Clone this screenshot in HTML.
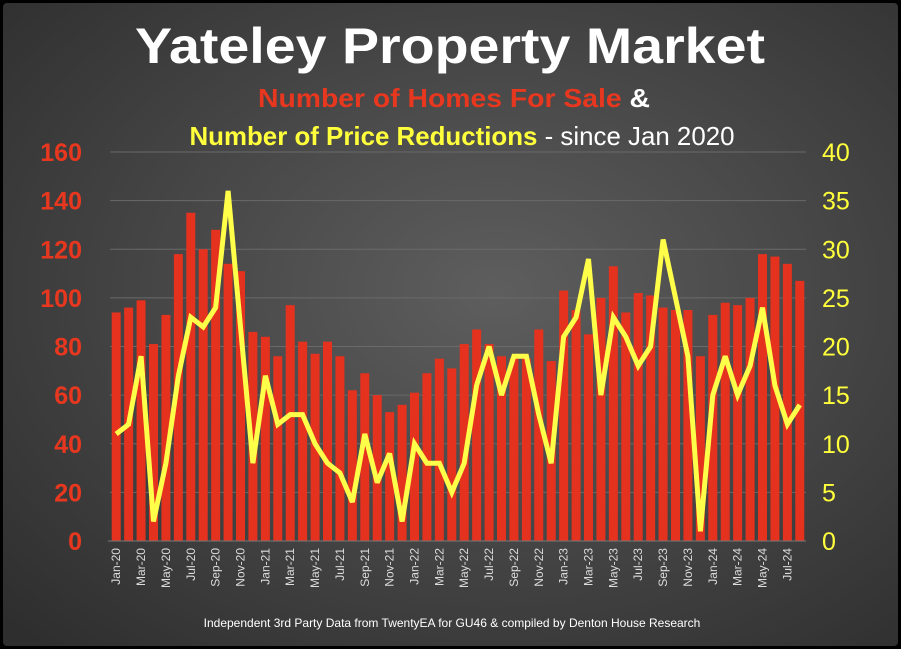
<!DOCTYPE html>
<html><head><meta charset="utf-8"><style>
html,body{margin:0;padding:0;background:#000;}
svg{display:block;font-family:"Liberation Sans",sans-serif;}
</style></head><body>
<svg id="chart" width="901" height="649" viewBox="0 0 901 649">
<defs>
<radialGradient id="bg" cx="0.55" cy="0.45" r="0.75">
<stop offset="0" stop-color="#5e5e5e"/><stop offset="1" stop-color="#2e2e2e"/>
</radialGradient>
</defs>
<rect x="3" y="3" width="895" height="643" rx="4" fill="url(#bg)"/>
<text x="450" y="63" text-anchor="middle" font-size="50" font-weight="bold" fill="#fff" textLength="630" lengthAdjust="spacingAndGlyphs">Yateley Property Market</text>
<text x="454" y="107" text-anchor="middle" font-size="26" font-weight="bold" textLength="392" lengthAdjust="spacingAndGlyphs"><tspan fill="#e8371f">Number of Homes For Sale</tspan><tspan fill="#fff"> &amp;</tspan></text>
<text x="462" y="145" text-anchor="middle" font-size="26" font-weight="bold" textLength="545" lengthAdjust="spacingAndGlyphs"><tspan fill="#ffff3c">Number of Price Reductions</tspan><tspan fill="#fff" font-weight="normal"> - since Jan 2020</tspan></text>
<g id="grid"></g><g id="bars"></g><g id="line"></g><g id="axes"></g>
<text x="452" y="627" text-anchor="middle" font-size="12" fill="#fff">Independent 3rd Party Data from TwentyEA for GU46 &amp; compiled by Denton House Research</text>
</svg>
<script>
const months = ["Jan","Feb","Mar","Apr","May","Jun","Jul","Aug","Sep","Oct","Nov","Dec"];
const homesForSale = [94,96,99,81,93,118,135,120,128,114,111,86,84,76,97,82,77,82,76,62,69,60,53,56,61,69,75,71,81,87,81,76,75,75,87,74,103,95,85,100,113,94,102,101,96,95,95,76,93,98,97,100,118,117,114,107];
const priceReductions = [11,12,19,2,8,17,23,22,24,36,22,8,17,12,13,13,10,8,7,4,11,6,9,2,10,8,8,5,8,16,20,15,19,19,13,8,21,23,29,15,23,21,18,20,31,25,19,1,15,19,15,18,24,16,12,14];
const leftTicks = [0,20,40,60,80,100,120,140,160];
const rightTicks = [0,5,10,15,20,25,30,35,40];
const categories = homesForSale.map((_, i) => months[i % 12] + "-" + String(20 + Math.floor(i / 12)));

const NS = "http://www.w3.org/2000/svg";
const X0 = 110, X1 = 806, Y0 = 541, Y1 = 152;
const n = categories.length, slot = (X1 - X0) / n;
const xC = i => X0 + slot * (i + 0.5);
const yL = v => Y0 - (v / 160) * (Y0 - Y1);
const yR = v => Y0 - (v / 40) * (Y0 - Y1);
function mk(tag, attrs, parent) {
  const e = document.createElementNS(NS, tag);
  for (const k in attrs) e.setAttribute(k, attrs[k]);
  parent.appendChild(e);
  return e;
}
const grid = document.getElementById("grid"), bars = document.getElementById("bars"),
      line = document.getElementById("line"), axes = document.getElementById("axes");
leftTicks.forEach((t, i) => {
  const y = yL(t);
  if (t > 0) {
    const g = mk("line", {x1: X0, x2: X1, y1: y, y2: y, stroke: "#6a6a6a", "stroke-width": 1}, grid);
    
    
  }
  const lt = mk("text", {x: 82, y: y + 9, "text-anchor": "end", "font-size": 25, fill: "#e8371f", "font-weight": "bold"}, axes);
  lt.textContent = t;
  
  
});
rightTicks.forEach(t => {
  const rt = mk("text", {x: 822, y: yR(t) + 9, "text-anchor": "start", "font-size": 25, fill: "#ffff3c"}, axes);
  rt.textContent = t;
  
  
});
const ax = mk("line", {x1: X0 - 2, x2: X1, y1: Y0, y2: Y0, stroke: "#777", "stroke-width": 1}, axes);


homesForSale.forEach((v, i) => {
  const b = mk("rect", {x: xC(i) - 4.5, y: yL(v), width: 9, height: Y0 - yL(v), fill: "#e5321f"}, bars);
  
  
});
categories.forEach((c, i) => {
  if (i % 2) return;
  const x = xC(i), y = 548;
  const t = mk("text", {x: x, y: y, transform: `rotate(-90 ${x} ${y})`, "text-anchor": "end", "font-size": 12, fill: "#dcdcdc", dy: "4"}, axes);
  t.textContent = c;
  
  
});
const pts = priceReductions.map((v, i) => xC(i).toFixed(1) + "," + yR(v).toFixed(1)).join(" ");
const pl = mk("polyline", {points: pts, fill: "none", stroke: "#ffff4a", "stroke-width": 5, "stroke-linejoin": "miter", "stroke-miterlimit": 3}, line);


</script>
</body></html>
